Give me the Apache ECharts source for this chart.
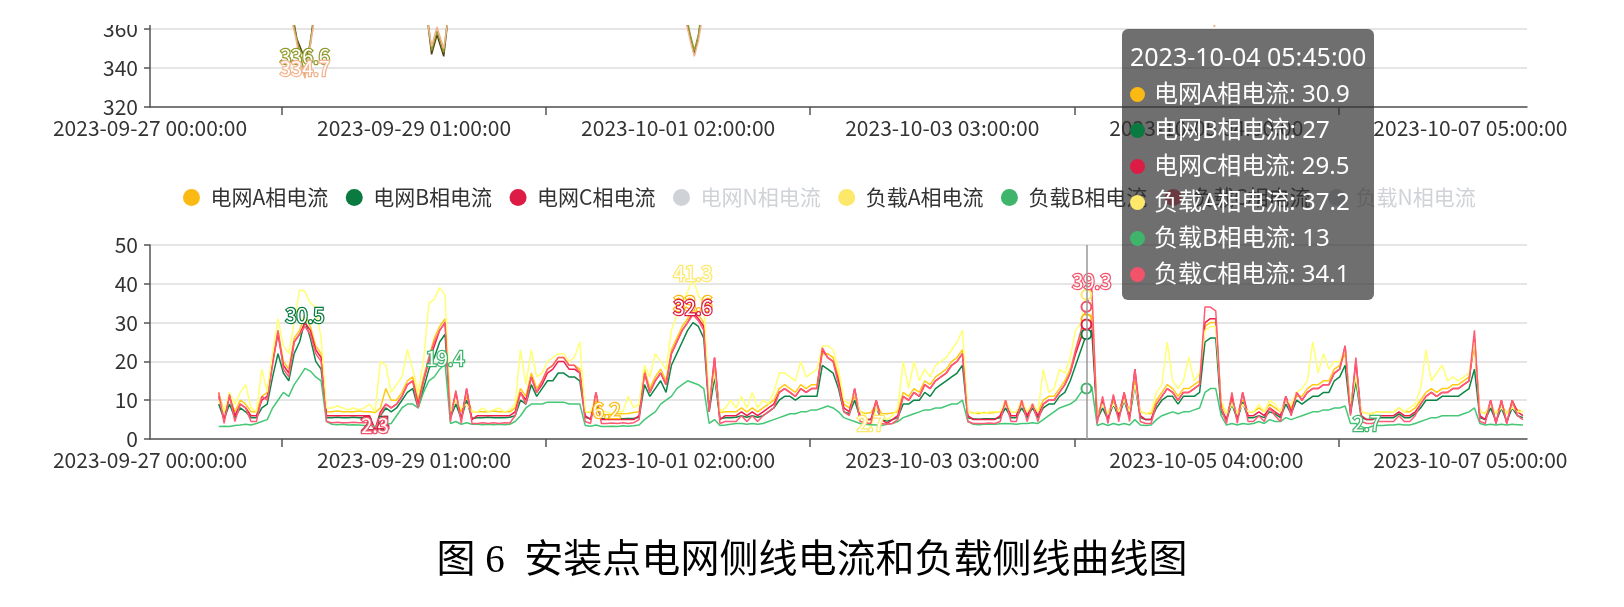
<!DOCTYPE html>
<html>
<head>
<meta charset="utf-8">
<script src="https://cdn.jsdelivr.net/npm/echarts@6/dist/echarts.min.js"></script>
<style>
  html, body { margin: 0; padding: 0; background: #fff; }
  #chart { width: 1624px; height: 607px; }
</style>
</head>
<body>
<div id="chart"></div>
<script>
// 15-minute slots from 2023-09-27 00:00:00, current readings sampled hourly at hh:45
const START = Date.UTC(2023, 8, 27, 0, 0, 0);
const SLOT_COUNT = 1023;
const FIRST_HOUR = 12;
const TIP_HOUR = 173; // 2023-10-04 05:45:00

const seriesNames = ['电网A相电流', '电网B相电流', '电网C相电流', '电网N相电流',
  '负载A相电流', '负载B相电流', '负载C相电流', '负载N相电流'];
const seriesColors = ['#fbb913', '#0a7a40', '#dc1c44', '#bbbbbb',
  '#fde86a', '#3fb56c', '#f2536a', '#bbbbbb'];

// hourly readings, hour 12 .. 254 (A)
const gridA = [
  12,6.8,11,7,10,9,7,7,11,12,21,28,
  20,18,26,28,32,29,24,22,7,7,7.2,7,
  7,7,7.2,7,7,6.8,8,13,10,10,12,15,
  16,10,16,21,26,29,31,7,10,7,11,7,
  7,7,7,7.2,7,7,7,8,13,11,17,13,
  15,18,19,21,21,19,19,18,7,6.8,10,6.5,
  6.2,6.5,6.6,6.5,6.6,6.8,7,18,13,16,18,15,
  23,26,29,31,33.6,32,30,9,18,6.8,7,7,
  7,8,7,8,7,8,9,10,13,14,13,12,
  14,13,14,14,22,22,21,16,9,8,11,7,
  6.6,6.8,9,6.6,6.5,6.7,7,12,11,13,12,15,
  14,16,17,18,20,21,23,7,6.7,6.6,6.8,6.7,
  6.8,7,9,7,7,9,7,9,7,10,11,11,
  13,15,18,23,27,30.9,32,6.6,9,6.5,10,7,
  11,7,15,7,6.6,6.5,10,12,14,13,11,13,
  13,14,15,29,30,30,9,6.5,10,6.5,10,7,
  7,8,7,9,8,7,10,8,11,11,13,14,
  14,15,15,18,19,22,8,16,7,6.6,6.6,7,
  7,7,7,8,7,7,8,10,12,13,12,13,
  13,14,14,15,16,24,7,6.6,9,6.5,9,6.5,9,7.5,7
];
const gridB = [
  9,5,9,5.5,8,7,5.5,5.5,8,9,16,22,
  17,15,22,25,30.5,26,20,18,5.5,5.5,5.6,5.5,
  5.5,5.6,5.5,5.5,5.4,2.5,6,8,7,8,10,12,
  13,8,13,18,21,25,27,5.5,9,5.2,10,5.3,
  5.5,5.5,5.6,5.5,5.5,5.5,5.6,6,10,9,14,11,
  13,15,15,17,17,16,16,15,5.6,5.2,9,5.2,
  5.2,5.2,5.3,5.2,5.3,5.3,5.6,14,11,13,15,12,
  19,22,25,28,30,29,26,7,16,5.2,5.5,5.5,
  5.6,6,5.6,6,5.6,6,7,8,10,11,11,10,
  11,11,11,11,19,18,17,13,7,6.5,10,5.5,
  5,5,8,5,4.6,5,5.5,9,9,10,10,12,
  11,13,14,15,16,17,19,5.5,5.2,5.1,5.2,5.2,
  5.2,5.5,8,5.5,5.5,8,5.5,8,5.5,8,9,9,
  11,12,15,19,23,27,28,5,8,5,9,5.5,
  10,5.5,14,5.5,5,5,8,10,11,11,9,11,
  11,11,12,25,26,26,7,5,9,5,9.5,5.5,
  5.5,6,5.5,7,6.5,5.5,9,6.5,10,9,10,11,
  11,12,12,15,16,19,6.5,15,5.5,5,5,5.5,
  5.5,5.5,5.5,6.5,5.5,5.5,6.5,8,10,10,10,11,
  11,11,11,12,13,18,5.5,5,8,4.5,8,4.5,8,6,5.5
];
const gridC = [
  11,5,11,6,9,8,6,6,10,11,20,27,
  19,17,25,27,30,28,23,21,6,6,6,6,
  6,6,6,6,6,2.4,7,9,8,9,11,14,
  15,9,15,20,24,28,30,6,12,5,13,5,
  6,6,6,6,6,6,6,7,12,10,16,12,
  14,17,18,20,20,18,18,17,6,5,12,5,
  5,5,5,5,5,5,6,17,12,15,17,14,
  22,25,28,30,32.6,31,29,8,21,5,6,6,
  6,7,6,7,6,7,8,9,12,13,12,11,
  13,12,13,13,23,21,20,15,8,7,13,6,
  5,5,10,5,4,5,6,11,10,12,11,14,
  13,15,16,17,19,20,22,6,5,5,5,5,
  5,6,10,6,6,10,6,9,6,9,10,10,
  12,14,17,22,26,29.5,31,5,10,5,11,6,
  12,6,18,6,5,5,9,11,13,12,10,12,
  12,13,14,30,31,31,8,5,11,5,12,6,
  6,7,6,8,7,6,11,7,12,10,12,13,
  13,14,14,17,18,24,7,20,6,5,5,6,
  6,6,6,7,6,6,7,9,11,12,11,12,
  12,13,13,14,15,26,6,5,10,4,10,4,10,7,6
];
const loadA = [
  10,7,12,9,12,14,8,7,18,12,22,31,
  24,22,30,38.5,38,35,34,26,8,8,8.5,8,
  7.5,8,7.5,8,9,7,20,19,12,14,16,23,
  18,12,20,35,36,39,37,7,10,8,9,7,
  7,8,7,7.5,8,7,7.5,9,23,14,23,16,
  17,20,21,22,22,20,21,25,7,7,11,7,
  7,6.5,7,7,11,8,9,19,16,22,20,18,
  28,32,35,38,41.3,37,35,10,17,7,8,10,
  8,11,8,12,8,10,9,12,17,17,16,15,
  20,16,17,18,24,24,23,18,10,9,12,7,
  6,2.7,8,6,5,6,8,20,13,20,15,18,
  16,19,20,21,23,25,28,7,6.5,7,6.5,7,
  7,7,10,7,7,10,7,9,7,18,12,13,
  18,17,21,28,30,37.2,37,6,9,6.5,9,7,
  10,7,14,7,6.5,7,12,14,25,15,13,15,
  21,15,17,28,29,29,10,6.5,9,6.5,9,7,
  7,9,7,10,9,7,10,9,12,13,15,25,
  17,22,18,20,20,23,9,16,7,6.5,6.5,7,
  7,7,7,8,7,8,9,13,23,15,17,19,
  15,16,15,16,17,25,7,6.5,9,6.5,8,6.5,8,7,7
];
const loadB = [
  3.2,3.3,3.2,3.5,3.6,3.8,3.6,4,4.5,5,8,10,
  12,11,14,16,18.2,17.5,16,15,4.5,3.8,3.7,3.8,
  3.6,3.7,3.6,3.5,3.6,3.2,3.5,3.8,4,6,8,9,
  9,8,12,15,16,18,19.4,4,4.5,3.8,4.2,3.8,
  3.8,3.7,3.8,3.7,3.8,3.7,3.8,4.5,6,8,9,9,
  9,9.5,9.5,9.5,9.5,9,9,9,3.5,3.3,3.6,3.2,
  3.2,3.3,3.2,3.4,3.3,3.4,3.6,5,6,7,9,10,
  11,13,14,15,14.5,14,13,4,5,3.5,3.6,3.8,
  4,4,3.8,4,3.8,4,4.5,5,5.5,6,6.5,6.5,
  7,7,7.5,7.5,8,8.5,8,7,5.5,5,4.5,4,
  3.8,3.7,3.6,3.5,3.8,4,4.5,5.5,6,6.5,7,7.5,
  7.5,8,8,8.5,9,9,10,4.5,3.8,3.7,3.8,3.8,
  3.8,3.9,4,3.9,3.8,4,4,4.2,4,5,6,7,
  8,8.5,9,10,12,13,13.5,3.5,4,3.5,4,3.6,
  4,3.6,5,3.6,3.5,3.6,5,6,6.5,7,6.5,7,
  7,7.5,8,12,13,13,6,3.6,4,3.6,4,3.8,
  4,4.5,4,5,4.5,4.5,5.5,5,5.5,6,6.5,7,
  7,7.5,7.5,8,8,8.5,4,4,3.2,2.7,3.3,3.5,
  3.5,3.6,3.6,3.8,3.6,3.6,4,4.5,5,5.5,5.5,6,
  6,6,6,6.5,7,8,4,3.6,3.8,3.6,3.8,3.6,3.8,3.7,3.6
];
const loadC = [
  12,4,11.5,4.5,9,8,4.5,4.5,11,10,19,28,
  18,16,25,27,29,27,22,20,4.5,4.2,4.3,4.2,
  4.2,4.3,4.2,4.2,4.3,2.3,6,9,8,9,11,14,
  15,8,15,21,25,28,30,4.5,12.5,4,13,4,
  4,4.2,4,4.2,4,4.2,4.1,6,12,9,16,12,
  15,18,19,21,21,19,19,17,4.5,4,12,4,
  4,4.1,4,4.2,4,4.2,5,17,12,15,17,14,
  22,25,28,30,32,30.5,28,7,21,4,4.5,4.5,
  4.5,6,4.5,6,4.5,6,7,8,12,13,12,11,
  13,12,13,13,23.5,21,20,14,7,6,13,4.5,
  4.2,4,10,4,3.8,4,5,11,10,12,11,14,
  13,15,16,17,19,20,22,4.5,4,4,4,4.1,
  4,4.5,10,4.5,4.5,10,4.5,9,4.5,9,10,10,
  12,14,17,23,28,34.1,39.3,4,11,4,11.5,4.5,
  12,4.5,18,4.5,4,4,9,11,13,12,10,12,
  12,13,14,34,34,33,8,4,12,4,12,4.5,
  4.5,6,4.5,8,6,4.5,11,6,12,10,12,13,
  13,14,14,17,18,24,6,21,4.5,4,4,4.5,
  4.5,4.5,4.5,6,4.5,4.5,6,9,11,12,11,12,
  12,13,13,14,15,28,4.5,4,10,4,10,4,10,6,5
];

// upper chart (line voltage): [15-min slot, value] readings, mostly above the visible band
const voltNames = ['AB线电压', 'BC线电压', 'CA线电压'];
const voltColors = ['#4d3f12', '#8f9a2a', '#f2b48e'];
const voltAB = [[51,397],[100,396],[105,370],[109,355],[113,348],[116,345],[119,352],[122,370],[126,396],
  [200,396],[205,370],[209,347],[213,357],[218,346],[222,370],[226,396],
  [392,396],[397,368],[401,356],[404,347],[407,356],[410,370],[415,396],[1019,397]];
const voltBC = [[51,396],[100,395],[104,372],[108,358],[112,345],[115,336.6],[118,350],[121,362],[125,394],
  [200,394],[205,372],[209,349],[213,359],[218,348],[222,372],[226,394],
  [392,395],[397,370],[401,357],[404,349],[407,357],[410,372],[415,395],[1019,396]];
const voltCA = [[51,393],[100,394],[104,368],[108,356],[112,342],[115,334.7],[118,348],[121,360],[125,393],
  [200,393],[205,368],[209,351],[213,361],[218,350],[222,368],[226,393],
  [392,394],[397,366],[401,354],[404,346],[407,354],[410,366],[415,394],
  [784,394],[787,368],[790,361],[792,368],[795,394],[1019,393]];

const caption = '图 6  安装点电网侧线电流和负载侧线曲线图';

function pad(n) { return n < 10 ? '0' + n : '' + n; }
const times = [];
for (let i = 0; i < SLOT_COUNT; i++) {
  const d = new Date(START + i * 15 * 60 * 1000);
  times.push(d.getUTCFullYear() + '-' + pad(d.getUTCMonth() + 1) + '-' + pad(d.getUTCDate()) + ' ' +
    pad(d.getUTCHours()) + ':' + pad(d.getUTCMinutes()) + ':00');
}
function hourlyToSlots(list) {
  const out = new Array(SLOT_COUNT).fill(null);
  list.forEach((v, k) => { out[(FIRST_HOUR + k) * 4 + 3] = v; });
  return out;
}
function pairsToSlots(list) {
  const out = new Array(SLOT_COUNT).fill(null);
  list.forEach(p => { out[p[0]] = p[1]; });
  return out;
}

const FONT = '"Noto Sans CJK SC", "Noto Sans", sans-serif';
const TIP_FONT = "'Noto Sans', 'Noto Sans CJK SC', sans-serif";

function peakMarks(color, points) {
  return {
    symbol: 'circle', symbolSize: 1,
    itemStyle: { color: 'rgba(0,0,0,0)' },
    label: {
      show: true, position: 'inside', offset: [0, -5],
      color: '#fff', fontSize: 20, fontFamily: FONT,
      textBorderColor: color, textBorderWidth: 2.5
    },
    data: points
  };
}

const current = { '电网A相电流': gridA, '电网B相电流': gridB, '电网C相电流': gridC,
  '负载A相电流': loadA, '负载B相电流': loadB, '负载C相电流': loadC };

const series = seriesNames.map((name, i) => {
  const color = seriesColors[i];
  const vals = current[name];
  const s = {
    name, type: 'line', xAxisIndex: 0, yAxisIndex: 0,
    data: vals ? hourlyToSlots(vals) : [],
    connectNulls: true, showSymbol: false,
    symbol: 'emptyCircle', symbolSize: 9,
    lineStyle: { width: 1.5, color }, itemStyle: { color }
  };
  if (vals) s.markPoint = peakMarks(color, [{ type: 'max' }, { type: 'min' }]);
  return s;
});

[voltAB, voltBC, voltCA].forEach((list, i) => {
  const color = voltColors[i];
  const s = {
    name: voltNames[i], type: 'line', xAxisIndex: 1, yAxisIndex: 1,
    data: pairsToSlots(list), connectNulls: true, showSymbol: false,
    lineStyle: { width: 1.5, color }, itemStyle: { color }, silent: true
  };
  if (i > 0) {
    s.markPoint = peakMarks(color, [{ type: 'min' }]);
    s.markPoint.label.offset = [0, i === 1 ? -18 : -10];
  }
  series.push(s);
});

function xAxis(gridIndex) {
  return {
    type: 'category', gridIndex, data: times, boundaryGap: false,
    axisLine: { lineStyle: { color: '#555', width: 1.5 } },
    axisTick: { interval: (i) => i % 196 === 98, length: 8, lineStyle: { color: '#555', width: 1.5 } },
    axisLabel: { interval: 195, color: '#333', fontSize: 21, fontFamily: FONT, margin: 11 },
    splitLine: { show: false },
    axisPointer: { show: gridIndex === 0 }
  };
}
function yAxis(gridIndex, min, max, interval) {
  return {
    type: 'value', gridIndex, min, max, interval,
    axisLine: { show: true, lineStyle: { color: '#555', width: 1.5 } },
    axisTick: { show: true, length: 6, lineStyle: { color: '#555', width: 1.5 } },
    axisLabel: { color: '#333', fontSize: 21, fontFamily: FONT, margin: 12 },
    splitLine: { lineStyle: { color: '#dcdcdc', width: 1.5 } }
  };
}

const chart = echarts.init(document.getElementById('chart'));
chart.setOption({
  animation: false,
  textStyle: { fontFamily: FONT },
  grid: [
    { left: 150, right: 97, top: 245, height: 194, outerBoundsMode: 'none' },
    { left: 150, right: 97, top: -88, height: 195, outerBoundsMode: 'none' }
  ],
  xAxis: [xAxis(0), xAxis(1)],
  yAxis: [yAxis(0, 0, 50, 10), yAxis(1, 320, 420, 20)],
  legend: {
    data: seriesNames, left: 183, top: 187, padding: 0,
    icon: 'circle', itemWidth: 28, itemHeight: 17, itemGap: 17.5,
    textStyle: { fontSize: 21, color: '#333', fontFamily: FONT },
    selected: { '电网N相电流': false, '负载N相电流': false }
  },
  tooltip: {
    trigger: 'axis', alwaysShowContent: true, transitionDuration: 0,
    position: [1122, 29],
    backgroundColor: 'rgba(50,50,50,0.7)', borderWidth: 0, padding: [9, 8],
    extraCssText: 'box-shadow:none;border-radius:6px;',
    axisPointer: { type: 'line', lineStyle: { color: '#999', width: 1.5, type: 'solid' } },
    formatter: (params) => {
      let html = '<div style="font-size:24px;line-height:36px;color:#fff;font-family:' + TIP_FONT + '">';
      html += '<span style="font-size:25px">' + params[0].axisValue + '</span>';
      params.forEach(p => {
        html += '<br/><span style="display:inline-block;width:15px;height:15px;border-radius:50%;margin-right:9px;background:' +
          p.color + '"></span>' + p.seriesName + ': ' + p.value;
      });
      return html + '</div>';
    }
  },
  graphic: [
    { type: 'rect', z: 100, shape: { x: 0, y: 0, width: 1624, height: 25 }, style: { fill: '#fff' } },
    { type: 'text', z: 100, left: 'center', top: 542,
      style: { text: caption, font: '39px "Liberation Serif", "Noto Sans CJK SC"', fill: '#000' } }
  ],
  series
});

const tipIndex = TIP_HOUR * 4 + 3;
chart.dispatchAction({ type: 'showTip', seriesIndex: 0, dataIndex: tipIndex });
setTimeout(() => chart.dispatchAction({ type: 'showTip', seriesIndex: 0, dataIndex: tipIndex }), 50);
</script>
</body>
</html>
